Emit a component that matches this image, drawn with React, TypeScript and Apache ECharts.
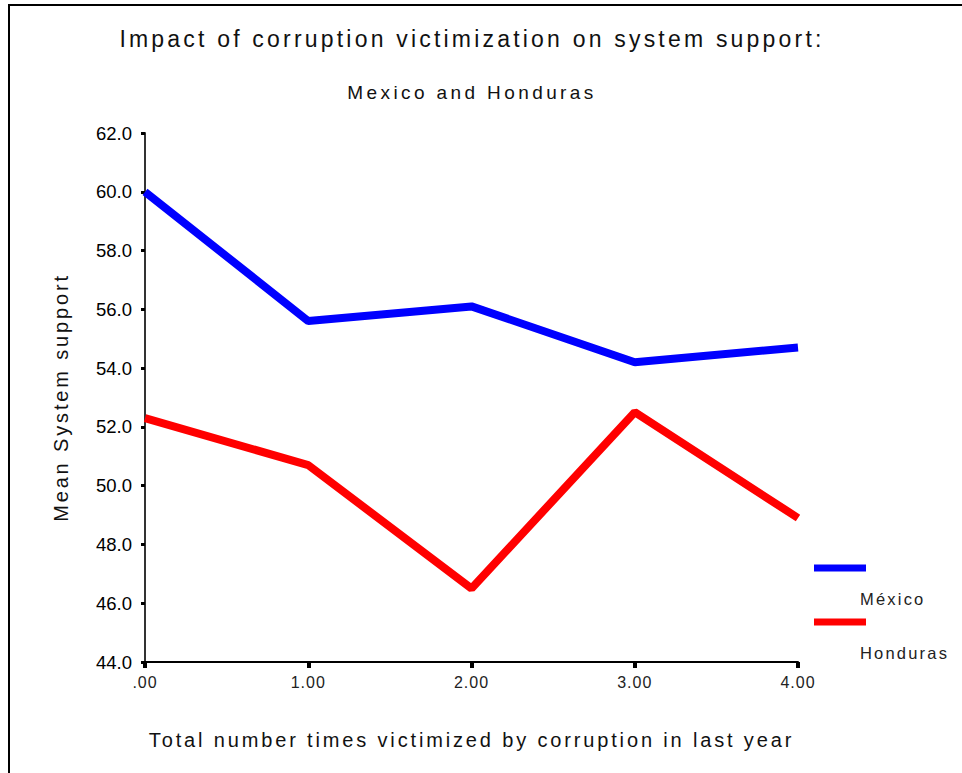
import React, { useEffect, useRef } from "react";
import * as echarts from "echarts";

const categories = [".00", "1.00", "2.00", "3.00", "4.00"];
const seriesNames = ["México", "Honduras"];
const mexicoValues = [60.0, 55.6, 56.1, 54.2, 54.7];
const hondurasValues = [52.3, 50.7, 46.5, 52.5, 48.9];
const seriesColors = ["#0000ff", "#ff0000"];
const yMin = 44;
const yMax = 62;
const yStep = 2;
const titleText = "Impact of corruption victimization on system support:";
const subtitleText = "Mexico and Honduras";
const xAxisName = "Total number times victimized by corruption in last year";
const yAxisName = "Mean System support";

const FONT = "Liberation Sans, Arial, sans-serif";

const css = `
#chart text[style*="23px"]{letter-spacing:3.2px}
#chart text[style*="19px"]{letter-spacing:3.4px}
#chart text[style*="20px"]{letter-spacing:2.85px}
#chart text[style*="16px"]{letter-spacing:1px}
#chart text[style*="16.5px"]{letter-spacing:2.2px}
`;

export default function App() {
  const ref = useRef<HTMLDivElement>(null);
  useEffect(() => {
    if (!ref.current) return;
    const chart = echarts.init(ref.current, null, { renderer: "svg" });
    const allValues = [mexicoValues, hondurasValues];
    const legendGraphics: any[] = [];
    seriesNames.forEach((name, i) => {
      const y = 568 + i * 54;
      legendGraphics.push({
        type: "line",
        shape: { x1: 814, y1: y, x2: 866, y2: y },
        style: { stroke: seriesColors[i], lineWidth: 7 },
      });
      legendGraphics.push({
        type: "text",
        x: 860,
        y: y + 31,
        style: {
          text: name,
          fill: "#222",
          font: `16.5px ${FONT}`,
          fontSize: 16.5,
          fontFamily: FONT,
          textAlign: "left",
          textVerticalAlign: "middle",
        },
      });
    });
    chart.setOption({
      animation: false,
      backgroundColor: "#fff",
      title: [
        {
          text: titleText,
          left: 467,
          top: 22,
          textAlign: "center",
          textStyle: { fontFamily: FONT, fontSize: 23, fontWeight: "normal", color: "#111" },
        },
        {
          text: subtitleText,
          left: 467,
          top: 78,
          textAlign: "center",
          textStyle: { fontFamily: FONT, fontSize: 19, fontWeight: "normal", color: "#111" },
        },
      ],
      grid: { left: 145, right: 164, top: 133, bottom: 111, containLabel: false },
      xAxis: {
        type: "category",
        data: categories,
        boundaryGap: false,
        name: xAxisName,
        nameLocation: "middle",
        nameGap: 68,
        nameTextStyle: { fontFamily: FONT, fontSize: 20, color: "#111" },
        axisLine: { lineStyle: { color: "#000", width: 2 } },
        axisTick: { alignWithLabel: true, length: 6, lineStyle: { color: "#000", width: 4 } },
        axisLabel: { fontFamily: FONT, fontSize: 16, color: "#222", margin: 12 },
        splitLine: { show: false },
      },
      yAxis: {
        type: "value",
        min: yMin,
        max: yMax,
        interval: yStep,
        name: yAxisName,
        nameLocation: "middle",
        nameGap: 74,
        nameTextStyle: { fontFamily: FONT, fontSize: 20, color: "#111" },
        axisLine: { show: true, lineStyle: { color: "#333", width: 2 } },
        axisTick: { show: true, length: 4, lineStyle: { color: "#000", width: 3 } },
        axisLabel: {
          fontFamily: FONT,
          fontSize: 18.5,
          color: "#000",
          margin: 13,
          formatter: (v: number) => v.toFixed(1),
        },
        splitLine: { show: false },
      },
      series: seriesNames.map((name, i) => ({
        name,
        type: "line",
        data: allValues[i],
        symbol: "none",
        lineStyle: { color: seriesColors[i], width: 8 },
        itemStyle: { color: seriesColors[i] },
      })),
      graphic: [
        {
          type: "line",
          shape: { x1: 9, y1: 5, x2: 9, y2: 773 },
          style: { stroke: "#000", lineWidth: 2 },
        },
        {
          type: "line",
          shape: { x1: 8, y1: 5, x2: 962, y2: 5 },
          style: { stroke: "#000", lineWidth: 2 },
        },
        ...legendGraphics,
      ],
    });
    return () => chart.dispose();
  }, []);
  return (
    <>
      <style>{css}</style>
      <div
        id="chart"
        ref={ref}
        style={{ position: "absolute", left: 0, top: 0, width: 962, height: 773 }}
      />
    </>
  );
}
